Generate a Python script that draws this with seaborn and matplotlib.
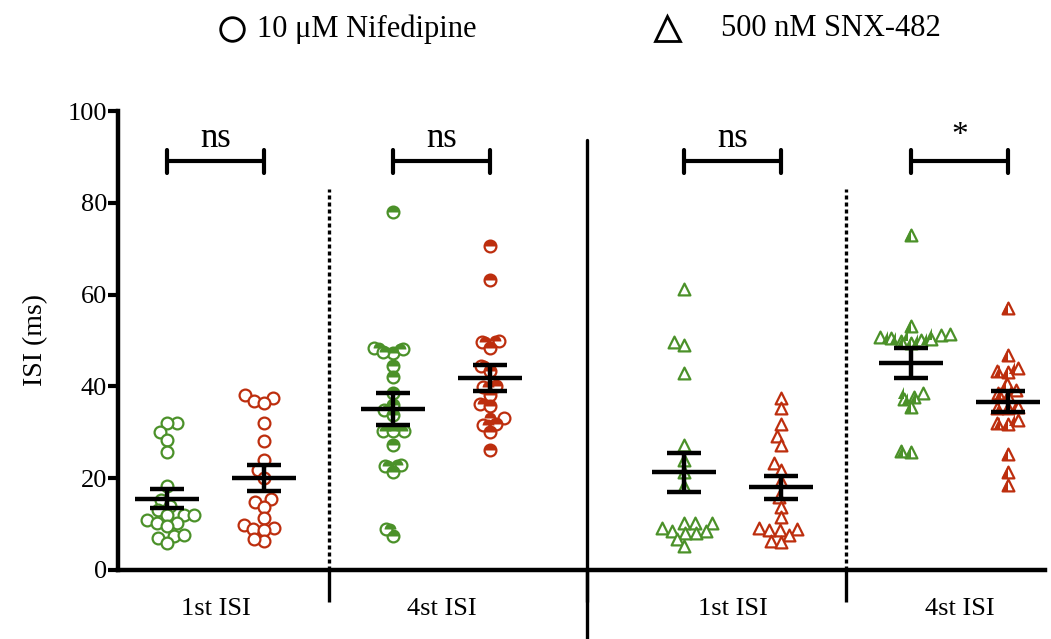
import numpy as np
import pandas as pd
import matplotlib
matplotlib.use("Agg")
import matplotlib.pyplot as plt
from matplotlib.markers import MarkerStyle
from matplotlib.lines import Line2D
from matplotlib.collections import PathCollection
import seaborn as sns

# ---------------- data ----------------
x_labels = ["1st ISI", "4st ISI", "1st ISI", "4st ISI"]
legend_labels = ["10 \u03bcM Nifedipine", "500 nM SNX-482"]
sig_labels = ["ns", "ns", "ns", "*"]

nif_1st_green = [32.1, 32.0, 30.0, 28.4, 25.6, 18.2, 15.3, 14.0, 13.0, 11.9, 11.9, 11.9,
                 10.9, 10.3, 10.3, 9.5, 7.5, 7.7, 7.0, 5.8]
nif_1st_red = [38.2, 36.9, 37.5, 36.4, 32.0, 28.2, 23.9, 21.8, 20.0, 15.5, 14.9, 13.8,
               11.3, 9.8, 8.9, 9.2, 8.8, 6.4, 6.7]
nif_4th_green = [78.0, 48.4, 47.3, 48.2, 47.4, 44.5, 42.0, 38.6, 36.0, 34.9, 33.8, 30.2,
                 30.2, 30.2, 27.3, 22.7, 22.9, 21.4, 7.4, 8.9]
nif_4th_red = [70.5, 63.1, 49.8, 49.6, 48.4, 44.4, 43.3, 40.0, 39.8, 38.2, 36.2, 35.8,
               33.2, 31.8, 31.6, 30.0, 26.2]
snx_1st_green = [61.3, 49.7, 49.1, 42.9, 27.3, 24.0, 21.4, 18.4, 10.3, 10.3, 10.2, 9.2,
                 8.6, 8.6, 8.0, 8.0, 6.7, 5.2]
snx_1st_red = [37.5, 35.3, 31.8, 29.3, 27.3, 23.3, 21.8, 19.3, 15.9, 13.8, 11.6, 8.7,
               9.1, 9.0, 7.6, 8.8, 6.3, 6.0]
snx_4th_green = [72.9, 53.2, 50.3, 50.8, 50.2, 51.1, 50.6, 49.8, 51.5, 49.5, 38.6, 37.2,
                 37.7, 35.6, 25.7, 26.0]
snx_4th_red = [57.1, 46.9, 43.3, 44.0, 43.1, 40.5, 39.3, 38.6, 37.8, 35.6, 35.3, 35.3,
               32.7, 31.9, 32.0, 25.3, 21.4, 18.5]

# mean and SEM per group (green/red for each of the four conditions)
group_means = [15.5, 20.0, 35.0, 41.8, 21.3, 18.0, 45.1, 36.7]
group_sems = [2.1, 2.8, 3.5, 2.8, 4.2, 2.5, 3.3, 2.2]

# ---------------- layout / style ----------------
GREEN = "#4b9129"
RED = "#bd2e0e"
pair_centers = [1.005, 3.34, 6.34, 8.675]
half_sep = 0.5
x_max = 9.557
LAYOUT_SIZE = 5.6   # marker size used for the swarm layout (points overlap like the original)
DRAW_SIZE = 8.5     # marker size actually drawn

groups = [
    (nif_1st_green, GREEN, "o", None),
    (nif_1st_red, RED, "o", None),
    (nif_4th_green, GREEN, "o", "top"),
    (nif_4th_red, RED, "o", "top"),
    (snx_1st_green, GREEN, "^", None),
    (snx_1st_red, RED, "^", None),
    (snx_4th_green, GREEN, "^", "left"),
    (snx_4th_red, RED, "^", "left"),
]
group_pos = []
for c in pair_centers:
    group_pos += [c - half_sep, c + half_sep]

sns.set_style("ticks", {"axes.edgecolor": "black", "xtick.color": "black",
                        "ytick.color": "black", "text.color": "black",
                        "axes.labelcolor": "black"})
plt.rcParams["font.family"] = ["Liberation Serif", "DejaVu Serif"]

fig = plt.figure(figsize=(10.51, 6.39), dpi=100)
ax = fig.add_axes([118 / 1051, 69 / 639, 927 / 1051, 459 / 639])

for (vals, col, mk, fs), pos in zip(groups, group_pos):
    df = pd.DataFrame({"pos": [pos] * len(vals), "ISI": vals})
    sns.swarmplot(data=df, x="pos", y="ISI", native_scale=True, orient="x", ax=ax,
                  color=col, marker=mk, size=LAYOUT_SIZE, facecolor="white",
                  edgecolor=col, linewidth=1.6, zorder=3)
    if fs is not None:
        sns.swarmplot(data=df, x="pos", y="ISI", native_scale=True, orient="x", ax=ax,
                      color=col, marker=MarkerStyle(mk, fillstyle=fs), size=LAYOUT_SIZE,
                      edgecolor=col, linewidth=0, zorder=4)

ax.set_xlim(0, x_max)
ax.set_ylim(0, 100)

# let seaborn lay out the swarms, then freeze them and enlarge the markers
fig.canvas.draw()
for coll in ax.collections:
    if isinstance(coll, PathCollection):
        if "draw" in coll.__dict__:
            del coll.draw
        coll.set_sizes([DRAW_SIZE ** 2])

# mean +/- SEM
ax.errorbar(group_pos, group_means, yerr=group_sems, fmt="none", ecolor="black",
            elinewidth=3.2, capsize=12, capthick=3.2, zorder=6)
ax.hlines(group_means, np.array(group_pos) - 0.33, np.array(group_pos) + 0.33,
          color="black", linewidth=3.2, zorder=6)

# significance brackets
br_y = 89.0
br_tick = 2.4
for c, lab in zip(pair_centers, sig_labels):
    x0, x1 = c - half_sep, c + half_sep
    ax.plot([x0, x1], [br_y, br_y], color="black", lw=3, solid_capstyle="butt", clip_on=False)
    ax.plot([x0, x0], [br_y - br_tick, br_y + br_tick], color="black", lw=3, clip_on=False)
    ax.plot([x1, x1], [br_y - br_tick, br_y + br_tick], color="black", lw=3, clip_on=False)
    if lab == "*":
        ax.text(c, 94.6, lab, ha="center", va="center", fontsize=24)
    else:
        ax.text(c, 94.0, lab, ha="center", va="center", fontsize=25)

# separators
seps = [(pair_centers[i] + pair_centers[i + 1]) / 2 for i in range(3)]
for i, s in enumerate(seps):
    if i == 1:
        ax.plot([s, s], [-15.0, 93.6], color="black", lw=2.4, clip_on=False, zorder=2)
    else:
        ax.plot([s, s], [0, 82.9], color="black", lw=2.4, linestyle=(0, (1.2, 0.9)),
                zorder=2)

# axes
ax.set_yticks([0, 20, 40, 60, 80, 100])
ax.set_xticks(seps)
ax.set_xticklabels([])
ax.set_xticks(pair_centers, minor=True)
ax.set_xticklabels(x_labels, minor=True)
ax.tick_params(axis="x", which="major", length=23, width=2.4, direction="out")
ax.tick_params(axis="x", which="minor", length=0, pad=20, labelsize=19)
ax.tick_params(axis="y", length=7, width=3, pad=1, labelsize=19, direction="out")
ax.set_xlabel("")
ax.set_ylabel("ISI (ms)", fontsize=20, labelpad=14)
for sp in ["top", "right"]:
    ax.spines[sp].set_visible(False)
for sp in ["left", "bottom"]:
    ax.spines[sp].set_linewidth(3.2)
    ax.spines[sp].set_color("black")
    ax.spines[sp].set_capstyle("projecting")

# legend at top
fig.add_artist(Line2D([232 / 1051], [1 - 29 / 639], marker="o", markersize=17,
                      markerfacecolor="white", markeredgecolor="black",
                      markeredgewidth=2, linestyle="none", transform=fig.transFigure))
fig.add_artist(Line2D([667 / 1051], [1 - 28 / 639], marker="^", markersize=18,
                      markerfacecolor="white", markeredgecolor="black",
                      markeredgewidth=2, linestyle="none", transform=fig.transFigure))
fig.text(257 / 1051, 1 - 29 / 639, legend_labels[0], ha="left", va="center", fontsize=22)
fig.text(721 / 1051, 1 - 29 / 639, legend_labels[1], ha="left", va="center", fontsize=22)

fig.savefig("out.png", dpi=100)
